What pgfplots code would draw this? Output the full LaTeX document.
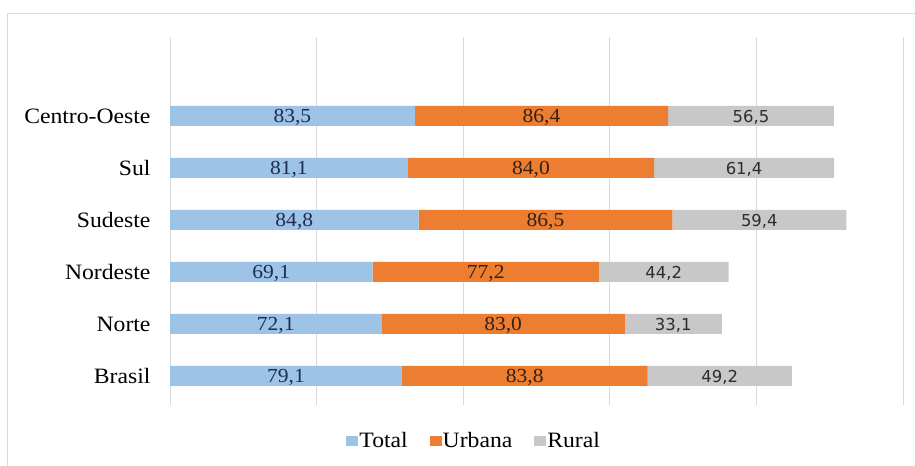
\documentclass[border=0pt]{standalone}
\usepackage{pgfplots}
\pgfplotsset{compat=1.18}
\usepackage{pgfplotstable}
\usepackage{fontspec}
\setmainfont{Liberation Serif}[FakeStretch=1.08]
\newfontfamily\lblfont{DejaVu Sans}
\definecolor{cTotal}{RGB}{157,195,230}
\definecolor{cUrb}{RGB}{237,125,49}
\definecolor{cRur}{RGB}{200,200,200}
\definecolor{cLblA}{RGB}{30,45,80}
\definecolor{cLblB}{RGB}{50,35,25}
\definecolor{cLblC}{RGB}{45,45,45}
\definecolor{cGrid}{RGB}{217,217,217}
\pgfplotstableread{
y T U R
0 79.1 83.8 49.2
1 72.1 83.0 33.1
2 69.1 77.2 44.2
3 84.8 86.5 59.4
4 81.1 84.0 61.4
5 83.5 86.4 56.5
}\data
\begin{document}
\begin{tikzpicture}
\useasboundingbox (0,0) rectangle (915bp,-466bp);
\draw[color=cGrid, line width=1bp] (7bp,-466bp) -- (7bp,-13bp) -- (915bp,-13bp);
\begin{axis}[
  at={(170bp,-405bp)}, anchor=south west,
  scale only axis, width=733bp, height=368bp,
  xbar stacked, bar width=20bp,
  xmin=0, xmax=250, ymin=-0.558, ymax=6.519,
  xtick={0,50,...,250}, xticklabels={},
  xmajorgrids, grid style={color=cGrid, line width=1bp},
  axis line style={draw=none},
  major tick length=0pt,
  ytick={0,1,2,3,4,5},
  yticklabels={Brasil,Norte,Nordeste,Sudeste,Sul,Centro-Oeste},
  yticklabel style={font=\fontsize{22}{24}\selectfont, text=black, xshift=-16bp},
  point meta=explicit,
  nodes near coords={\pgfmathprintnumber[fixed,fixed zerofill,precision=1,use comma,assume math mode=true]{\pgfplotspointmeta}},
  every node near coord/.append style={font=\fontsize{20}{22}\selectfont, anchor=center, yshift=-1.5bp},
  legend style={at={(0.415,-0.098)}, anchor=center, draw=none, fill=none,
    legend columns=3, font=\fontsize{22}{24}\selectfont,
    /tikz/every even column/.append style={column sep=20bp},
    /tikz/every odd column/.append style={column sep=-1bp}},
  legend image code/.code={\fill[#1,draw=none] (0bp,-5bp) rectangle (12bp,5bp);},
]
\addplot[fill=cTotal, draw=none,
  every node near coord/.append style={text=cLblA}]
  table[x=T,y=y,meta=T] {\data};
\addplot[fill=cUrb, draw=none,
  every node near coord/.append style={text=cLblB}]
  table[x=U,y=y,meta=U] {\data};
\addplot[fill=cRur, draw=none,
  every node near coord/.append style={text=cLblC, font=\lblfont\fontsize{16.5}{18}\selectfont}]
  table[x=R,y=y,meta=R] {\data};
\legend{Total,Urbana,Rural}
\end{axis}
\end{tikzpicture}
\end{document}
